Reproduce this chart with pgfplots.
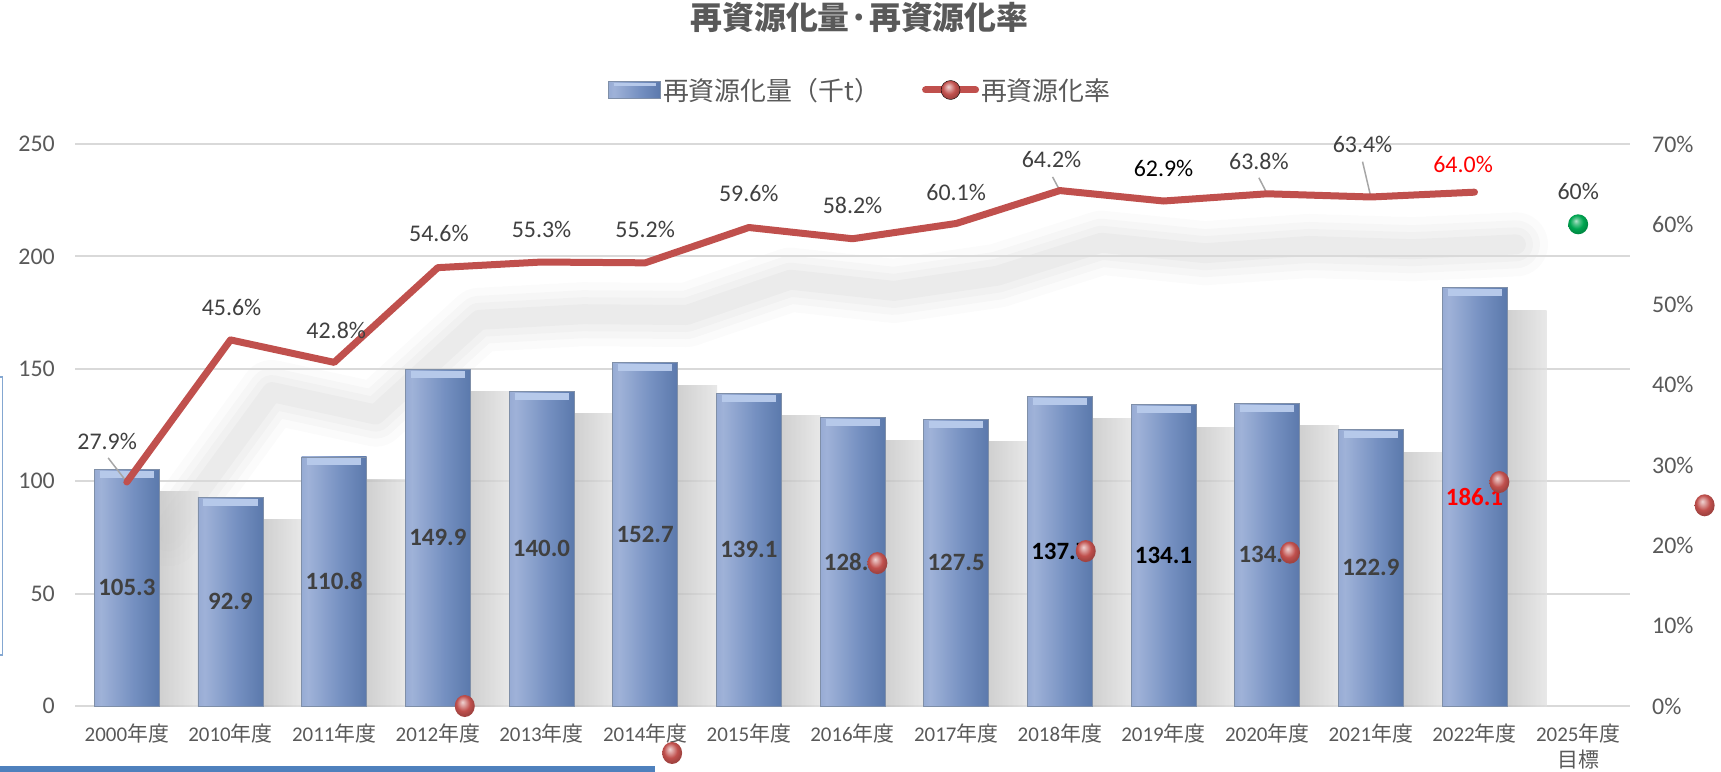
\documentclass[border=0pt]{standalone}
\usepackage{pgfplots}
\usepackage{pgfplotstable}
\pgfplotsset{compat=1.18}
\usepackage{fontspec}
\setmainfont{Carlito}
\newfontfamily\jp{Noto Sans CJK JP}
\definecolor{txt}{HTML}{595959}
\definecolor{lbl}{HTML}{404040}
\definecolor{linec}{HTML}{C0504D}
\definecolor{capc}{HTML}{B6C9EA}
\definecolor{gridc}{HTML}{D9D9D9}
\definecolor{edgec}{HTML}{7F8FA8}
\definecolor{artblue}{HTML}{4F81BD}
\definecolor{goal}{HTML}{00A651}
\definecolor{bA}{HTML}{5573A8}
\definecolor{bB}{HTML}{7B95C6}
\definecolor{bC}{HTML}{9FB2D8}
\definecolor{bD}{HTML}{7590C1}
\definecolor{bE}{HTML}{4A6A9E}
\definecolor{bF}{HTML}{3A5784}
\pgfdeclarehorizontalshading{barshade}{100bp}{color(0bp)=(bA); color(8bp)=(bB); color(30bp)=(bC); color(55bp)=(bD); color(88bp)=(bE); color(100bp)=(bF)}
\pgfdeclarehorizontalshading{shadowshade}{100bp}{color(0bp)=(black!32); color(45bp)=(black!26); color(75bp)=(black!12); color(100bp)=(white)}
\pgfdeclareradialshading{redballsh}{\pgfpoint{-6bp}{9bp}}{color(0bp)=(linec!25!white); color(7bp)=(linec!55!white); color(17bp)=(linec); color(25bp)=(linec!85!black); color(50bp)=(linec!70!black)}
\pgfdeclareradialshading{greenballsh}{\pgfpoint{-6bp}{9bp}}{color(0bp)=(goal!30!white); color(7bp)=(goal!65!white); color(17bp)=(goal); color(25bp)=(goal!85!black); color(50bp)=(goal!70!black)}
\pgfdeclareplotmark{rball}{\pgfpathellipse{\pgfpointorigin}{\pgfqpoint{\pgfplotmarksize}{0pt}}{\pgfqpoint{0pt}{1.1\pgfplotmarksize}}\pgfshadepath{redballsh}{0}\pgfusepath{discard}}
\pgfdeclareplotmark{gball}{\pgfpathcircle{\pgfpointorigin}{\pgfplotmarksize}\pgfshadepath{greenballsh}{0}\pgfusepath{discard}}
\newcommand{\xl}[1]{#1{\jp 年度}}
\pgfplotstableread{
x y
0 105.3
1 92.9
2 110.8
3 149.9
4 140.0
5 152.7
6 139.1
7 128.3
8 127.5
9 137.7
10 134.1
11 134.7
12 122.9
13 186.1
}\bardata
\pgfplotstableread{
x y
0.4 21.4
1.4 39.1
2.4 36.3
3.4 48.1
4.4 48.8
5.4 48.7
6.4 53.1
7.4 51.7
8.4 53.6
9.4 57.7
10.4 56.4
11.4 57.3
12.4 56.9
13.4 57.5
}\shadowline
\begin{document}
\begin{tikzpicture}
\useasboundingbox (0bp,0bp) rectangle (1721bp,-772bp);
% screenshot artefacts
\fill[artblue] (0bp,-766bp) rectangle (655bp,-772bp);
\draw[artblue!70, line width=1.2bp] (0bp,-377bp) -- (2.5bp,-377bp) -- (2.5bp,-655bp) -- (0bp,-655bp);
% ---------- axis 0 : soft shadow of the line ----------
\begin{axis}[at={(75bp,-706bp)}, anchor=south west, scale only axis,
  width=1555bp, height=562bp, xmin=-0.5, xmax=14.5, ymin=0, ymax=70, hide axis, clip=false]
\addplot[black, opacity=0.016, line width=64bp, line cap=round, line join=round, mark=none] table {\shadowline};
\addplot[black, opacity=0.018, line width=48bp, line cap=round, line join=round, mark=none] table {\shadowline};
\addplot[black, opacity=0.02, line width=34bp, line cap=round, line join=round, mark=none] table {\shadowline};
\addplot[black, opacity=0.022, line width=20bp, line cap=round, line join=round, mark=none] table {\shadowline};
\end{axis}
% ---------- axis 1 : bars, left scale ----------
\begin{axis}[at={(75bp,-706bp)}, anchor=south west, scale only axis,
  width=1555bp, height=562bp,
  xmin=-0.5, xmax=14.5, ymin=0, ymax=250,
  axis line style={draw=none}, major tick length=0pt,
  /pgf/number format/assume math mode=true,
  xtick={0,...,14},
  xticklabels={\xl{2000},\xl{2010},\xl{2011},\xl{2012},\xl{2013},\xl{2014},\xl{2015},\xl{2016},\xl{2017},\xl{2018},\xl{2019},\xl{2020},\xl{2021},\xl{2022},{\xl{2025}\\{\jp 目標}}},
  xticklabel style={font=\fontsize{21}{26}\selectfont, text=txt, align=center, inner sep=0pt, anchor=north, yshift=-18bp},
  ytick={0,50,...,250},
  yticklabel={\pgfmathprintnumber{\tick}},
  yticklabel style={font=\fontsize{24}{26}\selectfont, text=txt, inner sep=0pt, anchor=east, xshift=-20bp},
  ymajorgrids, grid style={draw=gridc, line width=2bp},
  clip=false,
  title={\jp\bfseries 再資源化量·再資源化率},
  title style={at={(0.5045,1.2153)}, anchor=center, font=\fontsize{32}{36}\selectfont, text=txt},
  legend columns=2,
  legend style={at={(0.5051,1.0961)}, anchor=center, draw=none, fill=none,
    font=\jp\fontsize{26}{28}\selectfont, text=txt, inner sep=0pt,
    nodes={inner sep=2bp},
    /tikz/every even column/.append style={column sep=40bp}},
]
\addlegendimage{legend image code/.code={
  \shade[shading=barshade, draw=edgec, line width=0.8bp] (0bp,-8.5bp) rectangle (52bp,8.5bp);
  \draw[capc, line width=3bp] (5bp,5.5bp) -- (47bp,5.5bp);}}
\addlegendentry{再資源化量（千t）}
\addlegendimage{legend image code/.code={
  \draw[linec, line width=7bp, line cap=round] (2bp,0bp) -- (52bp,0bp);
  \shade[shading=redballsh] (27bp,0bp) circle (9.5bp);}}
\addlegendentry{再資源化率}
% bar shadows, one path per bar
\pgfplotsinvokeforeach{0,...,13}{
\addplot[ybar, bar width=72bp, bar shift=36bp, draw=none, shading=shadowshade, shade, opacity=0.75, forget plot]
  table[x=x, y expr=\thisrow{y}-10, restrict expr to domain={\coordindex}{#1:#1}] {\bardata};
}
% bars, one path per bar
\pgfplotsinvokeforeach{0,...,13}{
\addplot[ybar, bar width=65bp, bar shift=0bp, draw=edgec, line width=0.8bp, shading=barshade, shade, forget plot]
  table[x=x, y=y, restrict expr to domain={\coordindex}{#1:#1}] {\bardata};
}
% bevelled tops
\addplot[only marks, mark=-, mark size=27bp, mark options={draw=capc, line width=7bp, yshift=-5bp}, forget plot] table[x=x,y=y] {\bardata};
% value labels
\addplot[draw=none, mark=none, nodes near coords, point meta=explicit symbolic,
  every node near coord/.append style={anchor=center, inner sep=0pt, font=\bfseries\fontsize{25}{27}\selectfont, text=lbl}, forget plot] coordinates {
(0,52.65)[105.3] (1,46.45)[92.9] (2,55.4)[110.8] (3,74.95)[149.9] (4,70.0)[140.0] (5,76.35)[152.7] (6,69.55)[139.1] (7,64.15)[128.3] (8,63.75)[127.5] (9,68.85)[\textcolor{black}{137.7}] (10,67.05)[\textcolor{black}{134.1}] (11,67.35)[134.7] (12,61.45)[122.9] (13,93.05)[\textcolor{red}{186.1}]};
\end{axis}
% ---------- axis 2 : rate, right scale ----------
\begin{axis}[at={(75bp,-706bp)}, anchor=south west, scale only axis,
  width=1555bp, height=562bp,
  xmin=-0.5, xmax=14.5, ymin=0, ymax=70,
  axis x line=none, axis y line*=right,
  axis line style={draw=none}, major tick length=0pt,
  /pgf/number format/assume math mode=true,
  ytick={0,10,...,70},
  yticklabel={\pgfmathprintnumber{\tick}\%},
  yticklabel style={font=\fontsize{24}{26}\selectfont, text=txt, inner sep=0pt, anchor=west, xshift=22bp},
  clip=false]
% leader lines
\addplot[draw=black!35, line width=1.5bp, forget plot] coordinates {(-0.18,30.9) (0,27.9)};
\addplot[draw=black!35, line width=1.5bp, forget plot] coordinates {(8.93,65.9) (9,64.2)};
\addplot[draw=black!35, line width=1.5bp, forget plot] coordinates {(10.92,65.8) (11,63.8)};
\addplot[draw=black!35, line width=1.5bp, forget plot] coordinates {(11.92,67.8) (12,63.4)};
% rate line
\addplot[linec, line width=7bp, line cap=round, line join=round, mark=none] coordinates {
(0,27.9) (1,45.6) (2,42.8) (3,54.6) (4,55.3) (5,55.2) (6,59.6) (7,58.2) (8,60.1) (9,64.2) (10,62.9) (11,63.8) (12,63.4) (13,64.0)};
% target
\addplot[only marks, mark=gball, mark size=10bp] coordinates {(14,60)};
% stray markers present in the source picture
\addplot[only marks, mark=rball, mark size=10bp] coordinates {
(3.26,0) (5.26,-5.85) (7.24,17.8) (9.25,19.3) (11.22,19.1) (13.24,27.9) (15.22,25.0)};
% rate labels
\addplot[draw=none, mark=none, nodes near coords, point meta=explicit symbolic,
  every node near coord/.append style={anchor=center, inner sep=0pt, font=\fontsize{24}{26}\selectfont, text=lbl}] coordinates {
(-0.19,33.0)[27.9\%] (1.01,49.7)[45.6\%] (2.02,46.8)[42.8\%] (3.01,58.8)[54.6\%] (4,59.4)[55.3\%] (5,59.4)[55.2\%] (6,63.8)[59.6\%] (7,62.3)[58.2\%] (8,64.0)[60.1\%] (8.92,68.1)[64.2\%] (10,67.0)[\textcolor{black}{62.9\%}] (10.92,67.8)[63.8\%] (11.92,69.9)[63.4\%] (12.89,67.4)[\textcolor{red}{64.0\%}] (14,64.1)[60\%]};
\end{axis}
\end{tikzpicture}
\end{document}
